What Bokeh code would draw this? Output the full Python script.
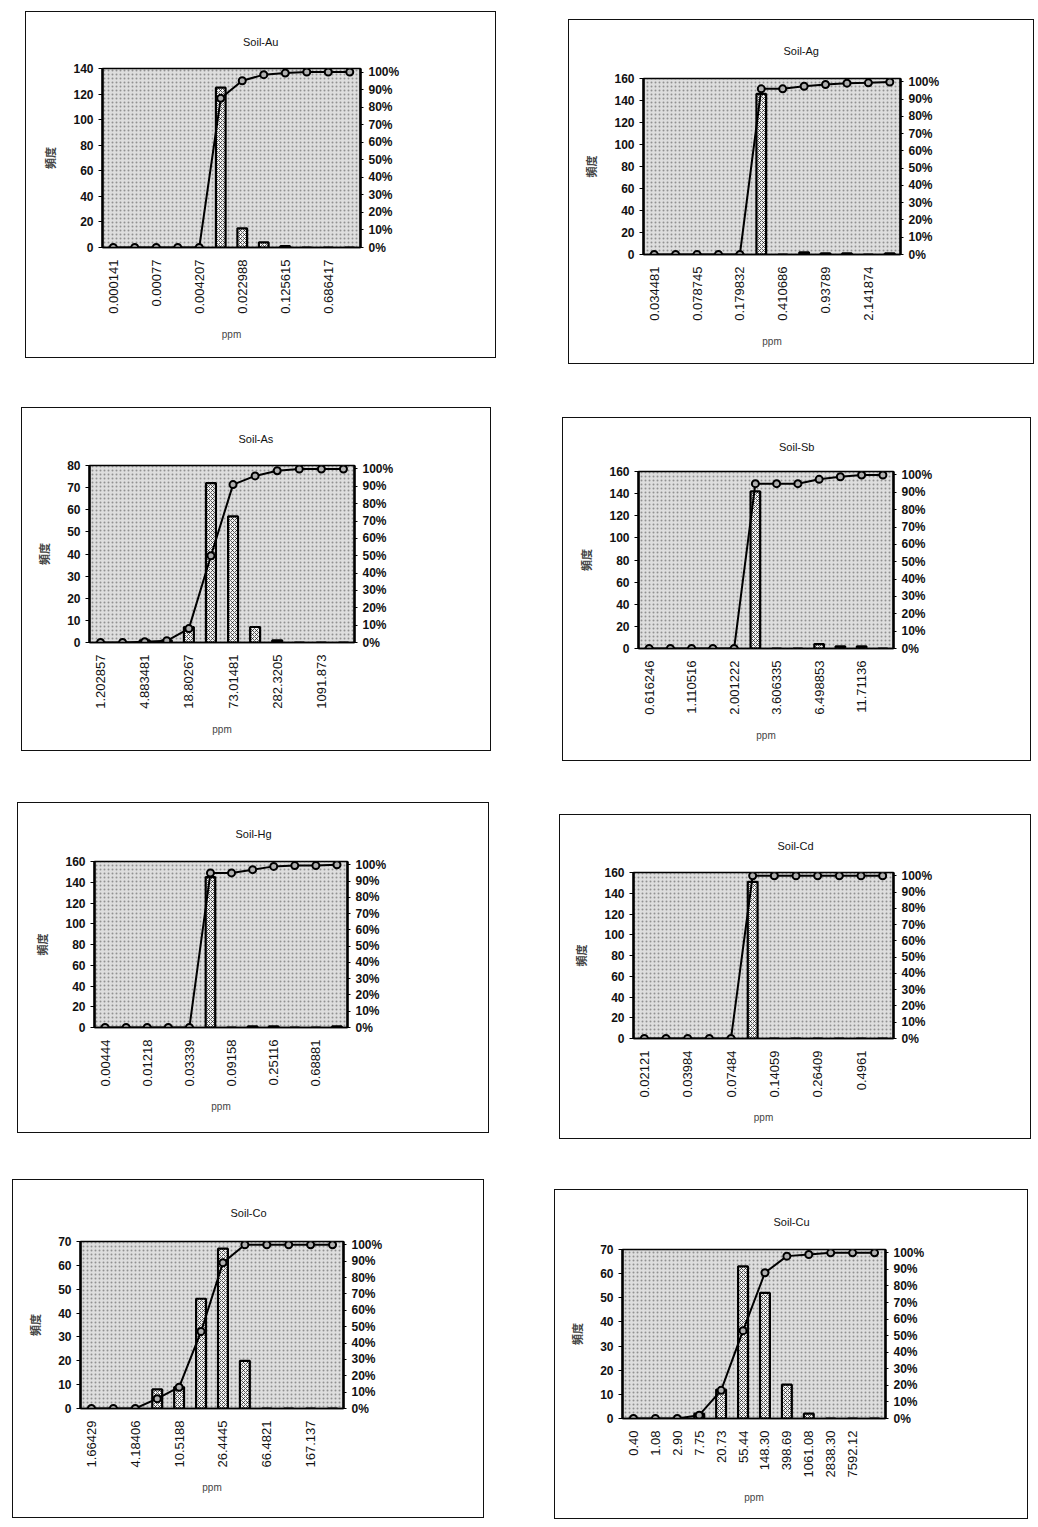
import math
from bokeh.plotting import figure
from bokeh.models import (Range1d, LinearAxis, FixedTicker, PrintfTickFormatter,
                          BoxAnnotation, Spacer)
from bokeh.layouts import row, column
from bokeh.embed import file_html
from bokeh.resources import INLINE

# ---------------- data ----------------
bins = [1, 2, 3, 4, 5, 6, 7, 8, 9, 10, 11, 12]

au_ticks = ["0.000141", "0.00077", "0.004207", "0.022988", "0.125615", "0.686417"]
au_freq = [0, 0, 0, 0, 0, 125, 15, 4, 1, 0, 0, 0]
au_cum = [0, 0, 0, 0, 0, 85, 95, 98.5, 99.4, 100, 100, 100]

ag_ticks = ["0.034481", "0.078745", "0.179832", "0.410686", "0.93789", "2.141874"]
ag_freq = [0, 0, 0, 0, 0, 146, 0, 2, 1, 1, 0, 1]
ag_cum = [0, 0, 0, 0, 0, 96, 96, 97.5, 98.5, 99.3, 99.5, 100]

as_ticks = ["1.202857", "4.883481", "18.80267", "73.01481", "282.3205", "1091.873"]
as_freq = [0, 0, 1, 1, 7, 72, 57, 7, 1, 0, 0, 0]
as_cum = [0, 0, 0.5, 1, 8, 50, 91, 96, 99, 100, 100, 100]

sb_ticks = ["0.616246", "1.110516", "2.001222", "3.606335", "6.498853", "11.71136"]
sb_freq = [0, 0, 0, 0, 0, 142, 0, 0, 4, 2, 2, 0]
sb_cum = [0, 0, 0, 0, 0, 95, 95, 95, 97.5, 99, 100, 100]

hg_ticks = ["0.00444", "0.01218", "0.03339", "0.09158", "0.25116", "0.68881"]
hg_freq = [0, 0, 0, 0, 0, 145, 0, 1, 1, 0, 0, 1]
hg_cum = [0, 0, 0, 0, 0, 95, 95, 97, 99, 99.5, 99.5, 100]

cd_ticks = ["0.02121", "0.03984", "0.07484", "0.14059", "0.26409", "0.4961"]
cd_freq = [0, 0, 0, 0, 0, 151, 0, 0, 0, 0, 0, 0]
cd_cum = [0, 0, 0, 0, 0, 100, 100, 100, 100, 100, 100, 100]

co_ticks = ["1.66429", "4.18406", "10.5188", "26.4445", "66.4821", "167.137"]
co_freq = [0, 0, 0, 8, 9, 46, 67, 20, 0, 0, 0, 0]
co_cum = [0, 0, 0, 6, 13, 47, 89, 100, 100, 100, 100, 100]

cu_ticks = ["0.40", "1.08", "2.90", "7.75", "20.73", "55.44", "148.30",
            "398.69", "1061.08", "2838.30", "7592.12"]
cu_freq = [0, 0, 0, 2, 12, 63, 52, 14, 2, 0, 0, 0]
cu_cum = [0, 0, 0, 2, 17, 53, 88, 98, 99, 100, 100, 100]

pct_ticks = [0, 10, 20, 30, 40, 50, 60, 70, 80, 90, 100]

NUM_FONT = "Liberation Sans"
CJK_FONT = "Noto Sans CJK JP"
TITLE_W = 36  # approx. rendered width of an 11px "Soil-Xx" title


def make_panel(title, ticks, freq, cum, ymax, ystep, w, h, left, right, top, bottom):
    p = figure(width=w, height=h, x_range=Range1d(0.5, 12.5), y_range=Range1d(0, ymax),
               output_backend="svg", toolbar_location=None,
               min_border_left=left, min_border_right=right,
               min_border_top=top, min_border_bottom=bottom)
    p.styles = {"outline": "1.5px solid #111"}
    p.grid.visible = False
    p.background_fill_color = "#dedede"
    p.border_fill_color = "white"
    p.outline_line_color = "black"
    p.outline_line_width = 1.5
    p.add_layout(BoxAnnotation(fill_alpha=0, line_alpha=0, hatch_pattern=".",
                               hatch_color="#333333", hatch_scale=4, hatch_alpha=0.45,
                               level="underlay"))

    # title, centred over the whole box
    p.title.text = title
    p.title.align = "left"
    p.title.offset = w / 2 - left - TITLE_W / 2
    p.title.standoff = top - 15
    p.title.text_font = NUM_FONT
    p.title.text_font_style = "normal"
    p.title.text_font_size = "11px"
    p.title.text_color = "#111"

    # x axis
    xa = p.xaxis[0]
    if len(ticks) == 6:
        tpos = [1, 3, 5, 7, 9, 11]
    else:
        tpos = list(range(1, len(ticks) + 1))
    xa.ticker = FixedTicker(ticks=tpos)
    xa.major_label_overrides = {t: s for t, s in zip(tpos, ticks)}
    xa.major_label_orientation = math.pi / 2
    xa.major_label_text_font = NUM_FONT
    xa.major_label_text_font_size = "13px"
    xa.major_label_text_color = "#111"
    xa.major_label_standoff = 6
    xa.major_tick_line_color = None
    xa.minor_tick_line_color = None
    xa.axis_line_color = "black"
    xa.axis_line_width = 1.5
    xa.axis_label = "ppm"
    xa.axis_label_text_font = NUM_FONT
    xa.axis_label_text_font_size = "10px"
    xa.axis_label_text_font_style = "normal"
    xa.axis_label_standoff = 12

    # left axis
    ya = p.yaxis[0]
    ya.ticker = FixedTicker(ticks=list(range(0, ymax + 1, ystep)))
    ya.major_label_text_font = NUM_FONT
    ya.major_label_text_font_style = "bold"
    ya.major_label_text_font_size = "12px"
    ya.major_label_text_color = "#111"
    ya.major_tick_out = 4
    ya.major_tick_in = 0
    ya.minor_tick_line_color = None
    ya.axis_line_width = 2.5
    ya.axis_label = "頻度"
    ya.axis_label_text_font = CJK_FONT
    ya.axis_label_text_font_style = "bold"
    ya.axis_label_text_font_size = "11px"
    ya.axis_label_standoff = 12

    # right axis
    p.extra_y_ranges = {"pct": Range1d(0, 102)}
    ra = LinearAxis(y_range_name="pct")
    ra.ticker = FixedTicker(ticks=pct_ticks)
    ra.formatter = PrintfTickFormatter(format="%d%%")
    ra.major_label_text_font = NUM_FONT
    ra.major_label_text_font_style = "bold"
    ra.major_label_text_font_size = "12px"
    ra.major_label_text_color = "#111"
    ra.major_tick_out = 3
    ra.major_tick_in = 0
    ra.minor_tick_line_color = None
    ra.axis_line_width = 2.5
    p.add_layout(ra, "right")

    # bars
    p.vbar(x=bins, top=freq, width=0.45, fill_color="#f2f2f2", line_color="black",
           line_width=2.2, hatch_pattern="x", hatch_color="black", hatch_scale=4,
           hatch_alpha=0.7, hatch_weight=0.9)
    # cumulative line
    p.line(x=bins, y=cum, y_range_name="pct", line_color="black", line_width=2)
    p.scatter(x=bins, y=cum, y_range_name="pct", marker="circle", size=7,
              fill_color="#b0b0b0", line_color="black", line_width=2)
    return p


au = make_panel("Soil-Au", au_ticks, au_freq, au_cum, 140, 20, 469, 345, 76, 135, 56, 110)
ag = make_panel("Soil-Ag", ag_ticks, ag_freq, ag_cum, 160, 20, 464, 343, 74, 133, 58, 109)
as_ = make_panel("Soil-As", as_ticks, as_freq, as_cum, 80, 10, 468, 342, 67, 136, 57, 108)
sb = make_panel("Soil-Sb", sb_ticks, sb_freq, sb_cum, 160, 20, 467, 342, 75, 137, 53, 112)
hg = make_panel("Soil-Hg", hg_ticks, hg_freq, hg_cum, 160, 20, 470, 329, 76, 141, 58, 105)
cd = make_panel("Soil-Cd", cd_ticks, cd_freq, cd_cum, 160, 20, 470, 323, 73, 137, 57, 100)
co = make_panel("Soil-Co", co_ticks, co_freq, co_cum, 70, 10, 470, 337, 67, 140, 61, 109)
cu = make_panel("Soil-Cu", cu_ticks, cu_freq, cu_cum, 70, 10, 472, 328, 67, 142, 59, 100)


def place_row(row_top, row_h, pl, xl, yl, pr, xr, yr):
    return row(
        Spacer(width=xl, height=1),
        column(Spacer(width=1, height=yl - row_top), pl, spacing=0),
        Spacer(width=xr - (xl + pl.width), height=1),
        column(Spacer(width=1, height=yr - row_top), pr, spacing=0),
        Spacer(width=1, height=row_h),
        spacing=0)


layout = column(
    place_row(0, 400, au, 26, 12, ag, 569, 20),
    place_row(400, 395, as_, 22, 408, sb, 563, 418),
    place_row(795, 375, hg, 18, 803, cd, 560, 815),
    place_row(1170, 350, co, 13, 1180, cu, 555, 1190),
    spacing=0)

open("out.html", "w").write(file_html(layout, INLINE))
